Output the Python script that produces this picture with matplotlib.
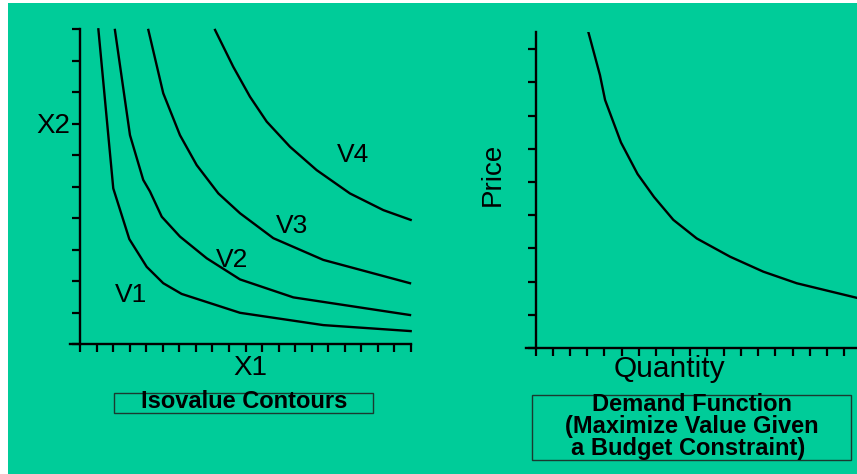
import matplotlib
matplotlib.use('Agg')
import matplotlib.pyplot as plt
from matplotlib.patches import Rectangle

# isovalue contours (x1, x2 in tick units)
v1_x = [1.11, 2.01, 2.98, 4.03, 5.03, 6.14, 9.67, 14.7, 19.98]
v1_y = [9.99, 4.94, 3.33, 2.45, 1.93, 1.59, 0.99, 0.60, 0.41]
v2_x = [2.11, 3.02, 3.82, 4.23, 4.94, 6.04, 7.66, 9.67, 12.89, 19.94]
v2_y = [9.97, 6.63, 5.21, 4.84, 4.04, 3.41, 2.72, 2.05, 1.48, 0.92]
v3_x = [4.13, 5.03, 6.04, 7.05, 8.36, 9.67, 11.68, 14.70, 19.94]
v3_y = [9.97, 7.96, 6.63, 5.68, 4.78, 4.15, 3.36, 2.67, 1.93]
v4_x = [8.16, 9.26, 10.27, 11.28, 12.69, 14.30, 16.31, 18.33, 19.98]
v4_y = [9.97, 8.80, 7.85, 7.06, 6.26, 5.52, 4.78, 4.25, 3.94]
contour_labels = ['V1', 'V2', 'V3', 'V4']

# demand curve
qty = [3.06, 3.74, 4.04, 4.97, 5.94, 6.90, 8.03, 9.40, 11.35, 13.29, 15.25, 18.77]
price = [9.52, 8.22, 7.47, 6.19, 5.24, 4.55, 3.86, 3.30, 2.75, 2.30, 1.95, 1.51]

W, H = 857, 474
GREEN = '#00CC99'
FONT = 'Liberation Sans'


def fx(px):
    return px / W


def fy(py):
    return 1 - py / H


fig = plt.figure(figsize=(W / 100, H / 100), dpi=100, facecolor='white')
fig.patches.append(Rectangle((fx(8), 0), 1, fy(3), transform=fig.transFigure,
                             facecolor=GREEN, edgecolor='none', zorder=-10))


def setup_axes(ax, ymax, yticks):
    ax.set_facecolor('none')
    ax.set_xlim(-0.6, 20)
    ax.set_ylim(0, ymax)
    for s in ['top', 'right']:
        ax.spines[s].set_visible(False)
    ax.spines['left'].set_position(('data', 0))
    ax.spines['left'].set_linewidth(1.7)
    ax.spines['bottom'].set_linewidth(1.7)
    ax.set_xticks(range(0, 21))
    ax.set_yticks(yticks)
    ax.tick_params(axis='both', direction='out', length=6, width=1.6,
                   labelbottom=False, labelleft=False, color='black')
    ax.spines['left'].set_clip_on(False)


# left panel: x 0..20 spans px 80..411, y 0..10 spans px 344..29
sx = (411 - 80) / 20
ax1 = fig.add_axes([fx(80 - 0.6 * sx), fy(344), (411 - 80 + 0.6 * sx) / W, (344 - 29) / H])
setup_axes(ax1, 10, range(0, 11))
for xs, ys in [(v1_x, v1_y), (v2_x, v2_y), (v3_x, v3_y), (v4_x, v4_y)]:
    ax1.plot(xs, ys, color='black', lw=1.7, clip_on=False, solid_joinstyle='round')

# right panel: y axis at px 536, x axis at px 348
sx2 = 17.1
sy2 = 33.2
ax2 = fig.add_axes([fx(536 - 0.6 * sx2), fy(348), 20.6 * sx2 / W, 9.52 * sy2 / H])
setup_axes(ax2, 9.52, range(0, 10))
ax2.plot(qty, price, color='black', lw=1.7, solid_joinstyle='round')

# axis labels
big = dict(family=FONT, color='black')
fig.text(fx(53), fy(133), 'X2', ha='center', va='baseline', fontsize=20, **big)
fig.text(fx(250), fy(375), 'X1', ha='center', va='baseline', fontsize=20, **big)
fig.text(fx(493), fy(174), 'Price', ha='center', va='center', rotation=90, fontsize=20, **big)
fig.text(fx(669), fy(377), 'Quantity', ha='center', va='baseline', fontsize=21.5, **big)

label_pos = [(131, 301.7), (232.5, 267.3), (292.5, 233.3), (353, 162.3)]
for lab, (px, py) in zip(contour_labels, label_pos):
    fig.text(fx(px), fy(py), lab, ha='center', va='baseline',
             fontsize=19, family=FONT, color='black')

# caption boxes
for (x0, y0, x1, y1) in [(114, 393, 373, 413), (532, 395, 851, 460)]:
    fig.patches.append(Rectangle((fx(x0), fy(y1)), (x1 - x0) / W, (y1 - y0) / H,
                                 transform=fig.transFigure, facecolor='none',
                                 edgecolor='#1a3a30', lw=1.0))

cap = dict(fontsize=17, family=FONT, fontweight='bold', color='black',
           ha='center', va='baseline')
fig.text(fx(244.5), fy(408.5), 'Isovalue Contours', **cap)
fig.text(fx(692), fy(411), 'Demand Function', **cap)
fig.text(fx(692), fy(433), '(Maximize Value Given', **cap)
fig.text(fx(688), fy(455), 'a Budget Constraint)', **cap)

fig.savefig('out.png', dpi=100)
plt.close(fig)
